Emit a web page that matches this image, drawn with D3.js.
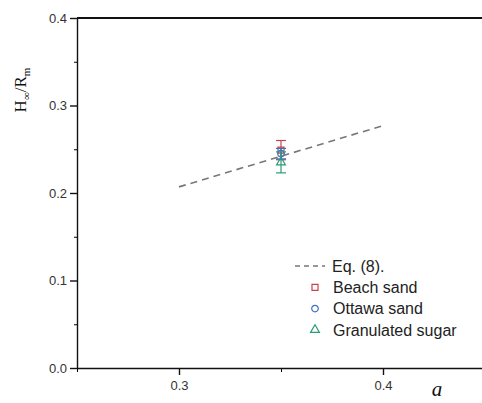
<!DOCTYPE html>
<html>
<head>
<meta charset="utf-8">
<script src="https://cdn.jsdelivr.net/npm/d3@7"></script>
<style>
  body { margin: 0; background: #fff; }
  .tick text { font-family: Arial, "Liberation Sans", sans-serif; fill: #333; }
</style>
</head>
<body>
<div id="chart"></div>
<script>
// data
const eqX = [0.3, 0.4]
const eqY = [0.207, 0.277]
const samples = ['Beach sand', 'Ottawa sand', 'Granulated sugar']
const sampleA = [0.35, 0.35, 0.35]
const sampleH = [0.249, 0.245, 0.235]
const sampleErr = [0.011, 0.006, 0.012]
const sampleColors = ['#c9424f', '#3f6fc2', '#2a9d79']
const sampleSymbols = ['square', 'circle', 'triangle']
const xTicks = [0.3, 0.4]
const xMinor = [0.25, 0.35, 0.45]
const yTicks = [0.0, 0.1, 0.2, 0.3, 0.4]
const yMinor = [0.05, 0.15, 0.25, 0.35]

const W = 482, H = 403
const margin = { top: 18, right: -3, bottom: 35, left: 77 }
const width = W - margin.left - margin.right
const height = H - margin.top - margin.bottom

const svg = d3.select('#chart')
    .append('svg')
    .attr('width', W)
    .attr('height', H)
    .append('g')
    .attr('transform', `translate(${margin.left}, ${margin.top})`)

const xScale = d3.scaleLinear().domain([0.25, 0.45]).range([0, width])
const yScale = d3.scaleLinear().domain([0, 0.4]).range([height, 0])

//top frame line
svg.append('line')
    .attr('x1', 0).attr('x2', width)
    .attr('y1', 0).attr('y2', 0)
    .attr('stroke', '#111').attr('stroke-width', 2)

//minor ticks
svg.append('g')
    .attr('transform', 'translate(0,' + height + ')')
    .call(d3.axisBottom(xScale).tickValues(xMinor).tickSize(4).tickFormat(''))
    .call(g => g.select('.domain').remove())
svg.append('g')
    .call(d3.axisLeft(yScale).tickValues(yMinor).tickSize(3).tickFormat(''))
    .call(g => g.select('.domain').remove())

//x axis
svg.append('g')
    .attr('transform', 'translate(0,' + height + ')')
    .call(d3.axisBottom(xScale).tickValues(xTicks).tickSize(7).tickSizeOuter(0).tickFormat(d3.format('.1f')))
    .call(g => g.selectAll('.tick text').style('font-size', '13px').attr('dy', '0.95em'))
    .call(g => g.selectAll('.domain, line').attr('stroke', '#111').attr('stroke-width', 1.4))

//y axis
svg.append('g')
    .call(d3.axisLeft(yScale).tickValues(yTicks).tickSize(7).tickSizeOuter(0).tickFormat(d3.format('.1f')))
    .call(g => g.selectAll('.tick text').style('font-size', '13px').attr('x', -10))
    .call(g => g.selectAll('.domain, line').attr('stroke', '#111').attr('stroke-width', 1.4))

//Eq. (8) line
const eqData = eqX.map((x, i) => ({ x: x, y: eqY[i] }))
const line = d3.line()
    .x(d => xScale(d.x))
    .y(d => yScale(d.y))
svg.append('path')
    .datum(eqData)
    .attr('fill', 'none')
    .attr('stroke', '#777')
    .attr('stroke-width', 1.6)
    .attr('stroke-dasharray', '7,5')
    .attr('d', line)

//data points with error bars
const symbolType = { square: d3.symbolSquare, circle: d3.symbolCircle, triangle: d3.symbolTriangle }
const symbolSize = { square: 36, circle: 34, triangle: 34 }
samples.forEach((name, i) => {
    const cx = xScale(sampleA[i])
    const g = svg.append('g').attr('stroke', sampleColors[i]).attr('fill', 'none').attr('stroke-width', 1.2)
    const y0 = yScale(sampleH[i] - sampleErr[i])
    const y1 = yScale(sampleH[i] + sampleErr[i])
    g.append('line').attr('x1', cx).attr('x2', cx).attr('y1', y0).attr('y2', y1)
    g.append('line').attr('x1', cx - 5).attr('x2', cx + 5).attr('y1', y0).attr('y2', y0)
    g.append('line').attr('x1', cx - 5).attr('x2', cx + 5).attr('y1', y1).attr('y2', y1)
    g.append('path')
        .attr('transform', `translate(${cx}, ${yScale(sampleH[i])})`)
        .attr('d', d3.symbol().type(symbolType[sampleSymbols[i]]).size(symbolSize[sampleSymbols[i]])())
})

//legend
const legend = svg.append('g').attr('transform', 'translate(218, 248)')
const rowH = 21.3
legend.append('line')
    .attr('x1', 0).attr('x2', 30).attr('y1', 0).attr('y2', 0)
    .attr('stroke', '#777').attr('stroke-width', 1.4).attr('stroke-dasharray', '5,4')
legend.append('text')
    .attr('x', 37).attr('y', 0).attr('dy', '0.35em')
    .style('font-family', 'Arial, "Liberation Sans", sans-serif')
    .style('font-size', '16px').style('fill', '#222')
    .text('Eq. (8).')
samples.forEach((name, i) => {
    const y = rowH * (i + 1)
    legend.append('path')
        .attr('transform', `translate(20, ${y})`)
        .attr('fill', 'none').attr('stroke', sampleColors[i]).attr('stroke-width', 1.2)
        .attr('d', d3.symbol().type(symbolType[sampleSymbols[i]]).size(symbolSize[sampleSymbols[i]])())
    legend.append('text')
        .attr('x', 38).attr('y', y).attr('dy', '0.35em')
        .style('font-family', 'Arial, "Liberation Sans", sans-serif')
        .style('font-size', '16px').style('fill', '#222')
        .text(name)
})

//y label
const ylab = svg.append('text')
    .attr('transform', 'translate(' + (-51) + ',' + 72 + ') rotate(-90)')
    .style('text-anchor', 'middle')
    .style('font-family', '"Liberation Serif", "DejaVu Serif", serif')
    .style('font-size', '17px')
    .style('fill', '#111')
ylab.append('tspan').text('H')
ylab.append('tspan').attr('dy', 4).style('font-size', '11px').text('∞')
ylab.append('tspan').attr('dy', -4).text('/R')
ylab.append('tspan').attr('dy', 4).style('font-size', '11px').text('m')

//x label
svg.append('text')
    .attr('x', 360).attr('y', height + 28)
    .style('text-anchor', 'middle')
    .style('font-family', '"Liberation Serif", "DejaVu Serif", serif')
    .style('font-style', 'italic')
    .style('font-size', '21px')
    .style('fill', '#111')
    .text('a')
</script>
</body>
</html>
